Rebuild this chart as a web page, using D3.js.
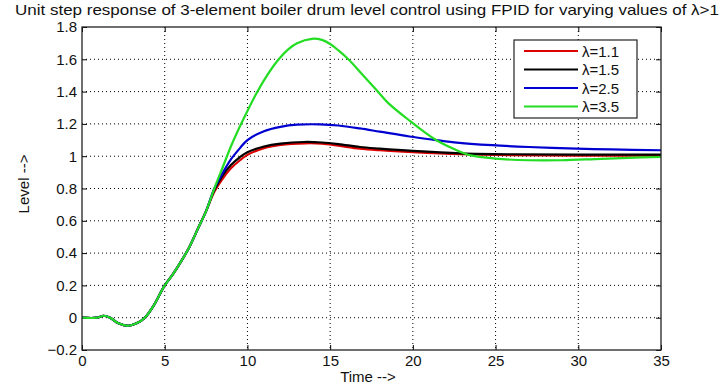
<!DOCTYPE html>
<html><head><meta charset="utf-8">
<script src="https://cdn.jsdelivr.net/npm/d3@7/dist/d3.min.js"></script>
<style>body{margin:0;background:#fff}text{font-family:"Liberation Sans",Arial,sans-serif;fill:#111}</style>
</head><body><svg id="c" width="722" height="386"></svg>
<script>
const titleText = "Unit step response of 3-element boiler drum level control using FPID for varying values of \u03bb>1";
const xTicks = [0,5,10,15,20,25,30,35];
const yTicks = [-0.2,0,0.2,0.4,0.6,0.8,1,1.2,1.4,1.6,1.8];
const seriesNames = ["\u03bb=1.1","\u03bb=1.5","\u03bb=2.5","\u03bb=3.5"];
const seriesColors = ["#dd0000","#000000","#0000d0","#22dd22"];

// common early segment (t, level)
const commonStart = [[0,0],[0.9,0],[1.3,0.012],[1.7,0.0],[2.2,-0.035],[2.8,-0.05],[3.3,-0.035],[3.8,0.0],[4.3,0.07],[5,0.2],[5.5,0.27],[6,0.35],[6.5,0.44],[7,0.55],[7.5,0.66]];
const red = [[8,0.78],[8.5,0.86],[9,0.925],[9.55,0.975],[10,1.008],[11,1.05],[12,1.07],[13.5,1.08],[14.5,1.078],[15.5,1.065],[16.8,1.047],[18,1.037],[20,1.025],[22.9,1.012],[26,1.006],[30,1.004],[35,1.004]];
const black = [[8,0.79],[8.5,0.88],[9,0.945],[9.55,0.995],[10,1.025],[11,1.06],[12,1.078],[13.4,1.088],[14.5,1.085],[15.5,1.075],[16.8,1.057],[18,1.047],[20,1.033],[22.9,1.018],[26,1.012],[30,1.01],[35,1.01]];
const blue = [[8,0.80],[8.5,0.895],[9,0.98],[9.55,1.05],[10,1.1],[11,1.155],[12,1.182],[13,1.195],[14.4,1.197],[15.5,1.19],[16.8,1.172],[18,1.152],[19.8,1.122],[21,1.105],[22.5,1.086],[24.8,1.068],[27,1.057],[29.9,1.047],[32,1.042],[35,1.037]];
const green = [[8,0.80],[8.5,0.93],[9,1.06],[9.55,1.185],[10,1.28],[10.5,1.38],[11,1.47],[11.77,1.585],[12.5,1.665],[13,1.7],[13.9,1.727],[14.5,1.72],[15,1.695],[15.5,1.655],[16.1,1.6],[17,1.5],[17.8,1.41],[18.5,1.33],[19.8,1.22],[21.4,1.1],[22.65,1.037],[23.5,1.005],[25,0.985],[27,0.975],[29,0.975],[31,0.982],[33,0.99],[35,0.995]];
const seriesData = [red, black, blue, green];

const svg = d3.select("#c");
const L=82, R=661, T=27, B=350;
const x = d3.scaleLinear().domain([0,35]).range([L,R]);
const y = d3.scaleLinear().domain([-0.2,1.8]).range([B,T]);
const FS = "15px";

// title
svg.append("text").attr("x",367).attr("y",15).attr("text-anchor","middle").style("font-size","15px")
  .attr("textLength",704).attr("lengthAdjust","spacingAndGlyphs").text(titleText);

// grid
const g = svg.append("g");
g.selectAll(".gx").data(xTicks.slice(1,-1)).enter().append("line")
 .attr("x1",d=>x(d)).attr("x2",d=>x(d)).attr("y1",T).attr("y2",B)
 .attr("stroke","#000").attr("stroke-width",1).attr("stroke-dasharray","1,3");
g.selectAll(".gy").data(yTicks.slice(1,-1)).enter().append("line")
 .attr("y1",d=>y(d)).attr("y2",d=>y(d)).attr("x1",L).attr("x2",R)
 .attr("stroke","#000").attr("stroke-width",1).attr("stroke-dasharray","1,3");

// axes
const fmt = d => d3.format("")(Math.round(d*10)/10);
const axB = svg.append("g").attr("transform",`translate(0,${B})`).call(d3.axisBottom(x).tickValues(xTicks).tickSizeInner(-5).tickSizeOuter(0).tickPadding(5).tickFormat(fmt));
const axT = svg.append("g").attr("transform",`translate(0,${T})`).call(d3.axisTop(x).tickValues(xTicks).tickSizeInner(-5).tickSizeOuter(0).tickFormat(""));
const axL = svg.append("g").attr("transform",`translate(${L},0)`).call(d3.axisLeft(y).tickValues(yTicks).tickSizeInner(-5).tickSizeOuter(0).tickPadding(5).tickFormat(fmt));
const axR = svg.append("g").attr("transform",`translate(${R},0)`).call(d3.axisRight(y).tickValues(yTicks).tickSizeInner(-5).tickSizeOuter(0).tickFormat(""));
[axB,axT,axL,axR].forEach(a=>{a.select(".domain").remove();a.selectAll("line").attr("stroke","#000");a.selectAll("text").style("font-size",FS).attr("fill","#111").style("font-family","'Liberation Sans',Arial,sans-serif");});

// curves
const line = d3.line().x(d=>x(d[0])).y(d=>y(d[1])).curve(d3.curveCatmullRom.alpha(0.5));
seriesData.forEach((s,i)=>{
  svg.append("path").datum(commonStart.concat(s)).attr("d",line).attr("fill","none")
   .attr("stroke",seriesColors[i]).attr("stroke-width",2.2).attr("stroke-linejoin","round");
});

// box
svg.append("rect").attr("x",L).attr("y",T).attr("width",R-L).attr("height",B-T).attr("fill","none").attr("stroke","#222").attr("stroke-width",1.3);

// axis labels
svg.append("text").attr("x",368).attr("y",382).attr("text-anchor","middle").style("font-size",FS).text("Time -->");
svg.append("text").attr("transform","translate(29,184) rotate(-90)").attr("text-anchor","middle").style("font-size",FS).text("Level -->");

// legend
const lg = svg.append("g");
lg.append("rect").attr("x",514).attr("y",40).attr("width",123).attr("height",78).attr("fill","#fff").attr("stroke","#222").attr("stroke-width",1.2);
seriesNames.forEach((n,i)=>{
  const yy = 51 + i*18.5;
  lg.append("line").attr("x1",524).attr("x2",578).attr("y1",yy).attr("y2",yy).attr("stroke",seriesColors[i]).attr("stroke-width",2.2);
  lg.append("text").attr("x",582).attr("y",yy+5.5).style("font-size","15px").text(n);
});
</script></body></html>
